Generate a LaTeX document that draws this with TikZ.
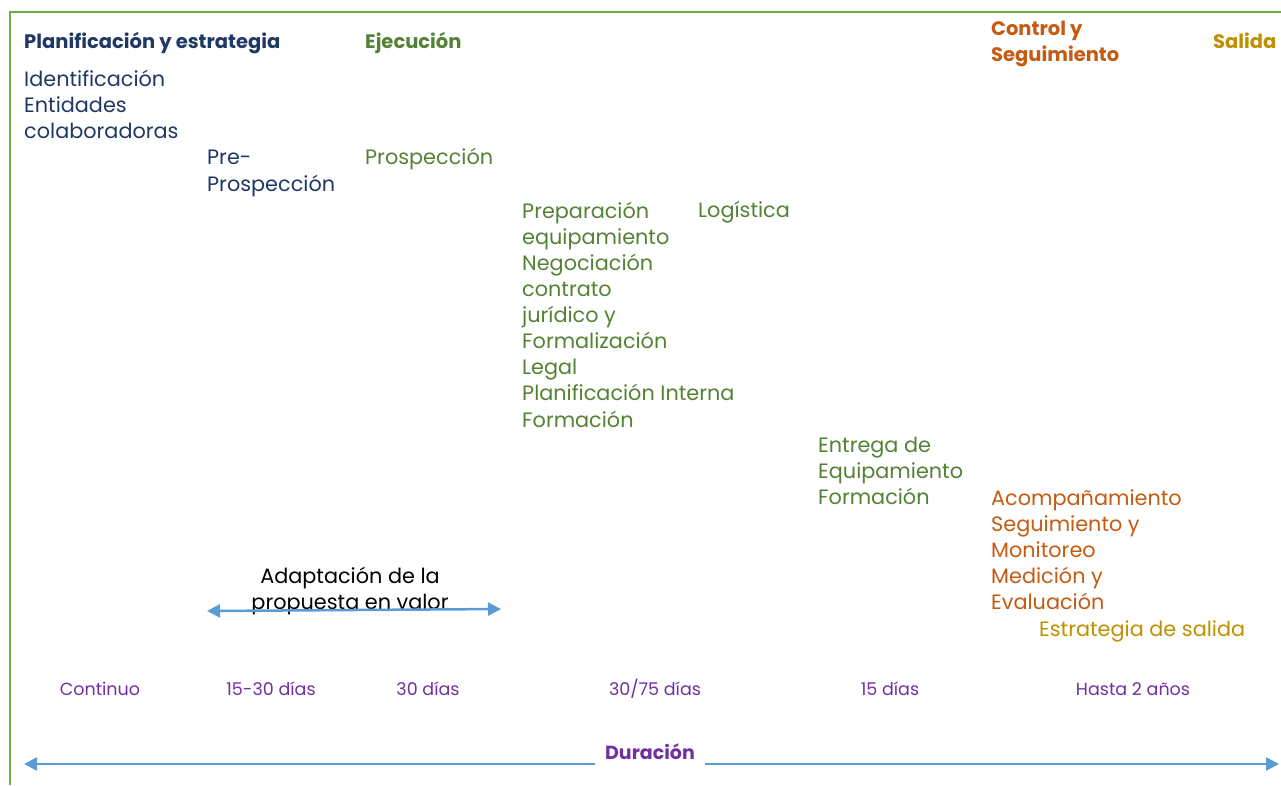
\documentclass[tikz,border=0pt]{standalone}
\usepackage{fontspec}
\setmainfont{Poppins}
\usepackage{xcolor}
\usetikzlibrary{positioning, arrows.meta}
\definecolor{navy}{HTML}{1F3864}
\definecolor{verde}{HTML}{548235}
\definecolor{borde}{HTML}{70AD47}
\definecolor{naranja}{HTML}{C55A11}
\definecolor{oro}{HTML}{BF9000}
\definecolor{morado}{HTML}{7030A0}
\definecolor{azul}{HTML}{5B9BD5}

\begin{document}
\begin{tikzpicture}[x=1pt, y=-1pt,
  fase/.style={anchor=west, inner sep=0pt, align=left, font=\fontsize{19.5}{26}\selectfont\bfseries},
  tarea/.style={anchor=west, inner sep=0pt, align=left, font=\fontsize{20.8}{26.1}\selectfont},
  plazo/.style={inner sep=0pt, color=morado, font=\fontsize{17.5}{20}\selectfont},
  punta/.style={color=azul, line width=2.5pt},
  flecha/.style={punta, {Triangle[length=13pt,width=13pt]}-{Triangle[length=13pt,width=13pt]}}]
\useasboundingbox (0,0) rectangle (1281,785);
\draw[color=borde, line width=2pt] (10,785) -- (10,12) -- (1281,12); %marco

% fases
\node[fase, color=navy] (plan) at (24,43) {Planificación y estrategia};
\node[fase, color=verde] (ejec) at (365,43) {Ejecución};
\node[fase, color=naranja] (ctrl) at (991,44) {Control y\\Seguimiento};
\node[fase, color=oro] (sal) at (1213,41) {Salida};

% tareas
\node[tarea, color=navy] (ident) at (24,104) {Identificación\\Entidades\\colaboradoras};
\node[tarea, color=navy] (prepros) at (207,173.5) {Pre-\\Prospección};
\node[tarea, color=verde] (pros) at (365,159) {Prospección};
\node[tarea, color=verde] (prep) at (522,314.5) {Preparación\\equipamiento\\Negociación\\contrato\\jurídico y\\Formalización\\Legal\\Planificación Interna\\Formación};
\node[tarea, color=verde] (log) at (698,212) {Logística};
\node[tarea, color=verde] (entr) at (818,471) {Entrega de\\Equipamiento\\Formación};
\node[tarea, color=naranja] (acomp) at (991,549.5) {Acompañamiento\\Seguimiento y\\Monitoreo\\Medición y\\Evaluación};
\node[tarea, color=oro] (estr) at (1039,631) {Estrategia de salida};
\node[tarea, anchor=center, align=center, color=black] (adap) at (350,591) {Adaptación de la\\propuesta en valor};

\coordinate (adapL) at (207,611);
\coordinate (adapR) at (501,609);
\draw[flecha] (adapL) -- (adapR);

% plazos
\node[plazo] (p1) at (100,689) {Continuo};
\node[plazo] (p2) at (271,689) {15-30 días};
\node[plazo] (p3) at (428,689) {30 días};
\node[plazo] (p4) at (655,689) {30/75 días};
\node[plazo] (p5) at (890,689) {15 días};
\node[plazo] (p6) at (1133,689) {Hasta 2 años};

% duracion
\node[plazo, font=\fontsize{19}{22}\selectfont\bfseries, inner xsep=10pt] (dur) at (650,752) {Duración};
\coordinate (durL) at (24,764);
\coordinate (durR) at (1279,764);
\draw[punta, {Triangle[length=13pt,width=13pt]}-] (durL) -- (dur.west |- durL);
\draw[punta, -{Triangle[length=13pt,width=13pt]}] (dur.east |- durR) -- (durR);
\end{tikzpicture}
\end{document}
